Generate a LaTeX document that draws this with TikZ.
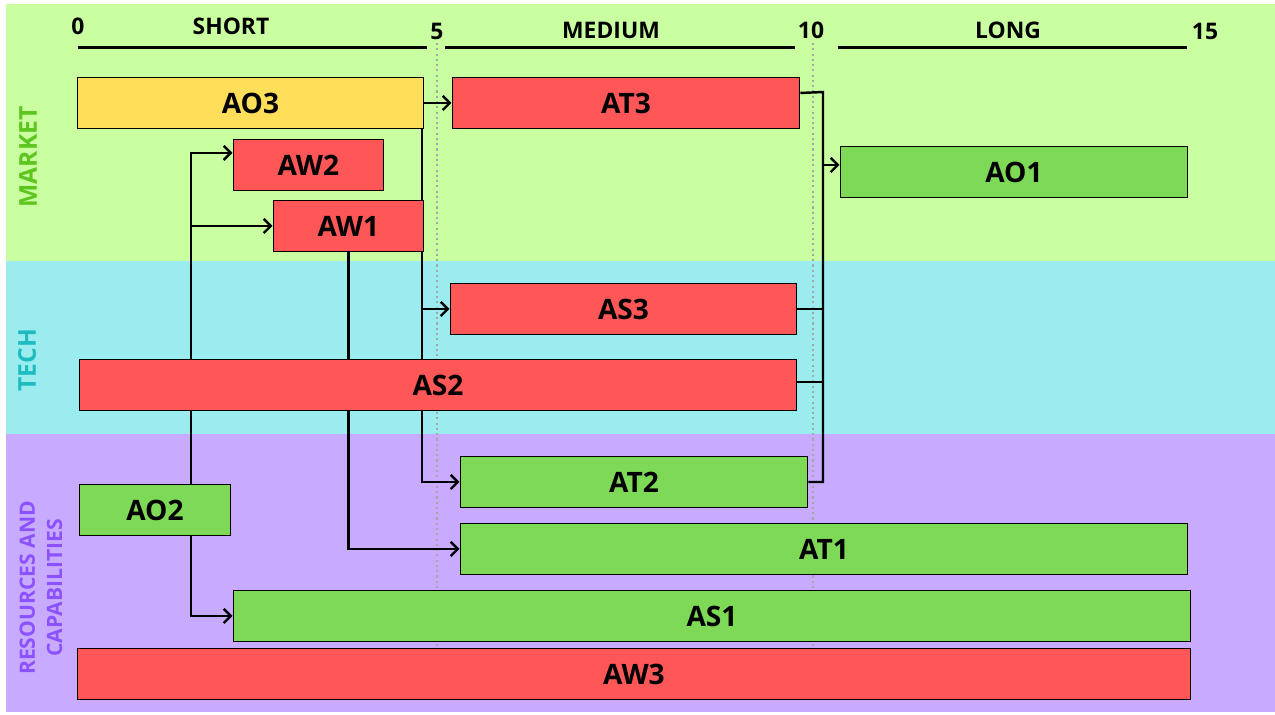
\documentclass[tikz,border=0pt]{standalone}
\usepackage{fontspec}
\setmainfont{Open Sans}
\usepackage{xcolor}
\usepackage{tikz}
\usetikzlibrary{arrows.meta}

\pgfdeclarelayer{lanes}
\pgfdeclarelayer{links}
\pgfsetlayers{lanes,links,main}

\definecolor{laneMarket}{HTML}{C9FFA1}
\definecolor{laneTech}{HTML}{9BECEF}
\definecolor{laneRes}{HTML}{C8ABFF}
\definecolor{barRed}{HTML}{FF5757}
\definecolor{barGreen}{HTML}{7ED957}
\definecolor{barYellow}{HTML}{FFDE59}
\definecolor{txtMarket}{HTML}{5CC51E}
\definecolor{txtTech}{HTML}{1EBCC0}
\definecolor{txtRes}{HTML}{8C52FF}

\begin{document}
\begin{tikzpicture}[
  bar/.style={draw=black, line width=1.1pt, minimum height=1.02cm, inner sep=0pt,
              anchor=north west, font=\fontsize{16}{18}\selectfont\bfseries},
  redbar/.style={bar, fill=barRed},
  greenbar/.style={bar, fill=barGreen},
  yellowbar/.style={bar, fill=barYellow},
  axis/.style={font=\fontsize{13}{15}\selectfont\bfseries, inner sep=1pt},
  lanelab/.style={rotate=90, align=center, font=\fontsize{14}{16}\selectfont\bfseries},
  link/.style={line width=1.4pt},
  arr/.style={link, -{Straight Barb[length=4pt,width=8pt]}},
  grid/.style={gray!70, line width=1.2pt, dash pattern=on 1.2pt off 1.8pt}]

%% ── Scale: 1cm = 50px, y downwards negative ─────────────────────────────────
\useasboundingbox (0,0) rectangle (25.5,-14.28);

%% ── Lanes ───────────────────────────────────────────────────────────────────
\begin{pgfonlayer}{lanes}
\fill[laneMarket] (0.12,-0.08) rectangle (25.5,-5.22);
\fill[laneTech]   (0.12,-5.22) rectangle (25.5,-8.68);
\fill[laneRes]    (0.12,-8.68) rectangle (25.5,-14.24);
\foreach \xg in {8.74,16.26}{
  \draw[grid] (\xg,-0.86) -- (\xg,-12.94);
}
\end{pgfonlayer}

\node[lanelab, txtMarket] (labMarket) at (0.56,-3.14) {MARKET};
\node[lanelab, txtTech]   (labTech)   at (0.54,-7.20) {TECH};
\node[lanelab, txtRes, font=\fontsize{12}{15.5}\selectfont\bfseries]
  (labRes) at (0.82,-11.76) {RESOURCES AND\\CAPABILITIES};

%% ── Time axis ───────────────────────────────────────────────────────────────
\foreach \xa/\xb in {1.56/8.54, 8.90/15.90, 16.76/23.74}{
  \draw[line width=2.2pt] (\xa,-0.95) -- (\xb,-0.95);
}
\node[axis] (t0)     at (1.56,-0.52)  {0};
\node[axis] (short)  at (4.62,-0.52)  {SHORT};
\node[axis] (t5)     at (8.74,-0.62)  {5};
\node[axis] (medium) at (12.22,-0.60) {MEDIUM};
\node[axis] (t10)    at (16.22,-0.60) {10};
\node[axis] (long)   at (20.16,-0.60) {LONG};
\node[axis] (t15)    at (24.10,-0.62) {15};

%% ── Bars ────────────────────────────────────────────────────────────────────
\node[yellowbar, minimum width=6.92cm]  (AO3) at (1.53,-1.53)  {AO3};
\node[redbar,    minimum width=6.94cm]  (AT3) at (9.03,-1.53)  {AT3};
\node[redbar,    minimum width=3.00cm]  (AW2) at (4.65,-2.77)  {AW2};
\node[greenbar,  minimum width=6.94cm]  (AO1) at (16.79,-2.91) {AO1};
\node[redbar,    minimum width=3.00cm]  (AW1) at (5.45,-3.99)  {AW1};
\node[redbar,    minimum width=6.92cm]  (AS3) at (8.99,-5.65)  {AS3};
\node[redbar,    minimum width=14.34cm] (AS2) at (1.57,-7.17)  {AS2};
\node[greenbar,  minimum width=6.94cm]  (AT2) at (9.19,-9.11)  {AT2};
\node[greenbar,  minimum width=3.02cm]  (AO2) at (1.57,-9.67)  {AO2};
\node[greenbar,  minimum width=14.54cm] (AT1) at (9.19,-10.45) {AT1};
\node[greenbar,  minimum width=19.14cm] (AS1) at (4.65,-11.79) {AS1};
\node[redbar,    minimum width=22.26cm] (AW3) at (1.53,-12.95) {AW3};

%% ── Dependencies ────────────────────────────────────────────────────────────
\begin{pgfonlayer}{links}
\draw[arr] (AO3.east) -- (AT3.west);
\draw[arr] ([xshift=-0.05cm]AO3.south east) |- (AS3.west);
\draw[arr] ([xshift=-0.05cm]AO3.south east) |- (AT2.west);
\draw[arr] (AW1.south) |- (AT1.west);

\coordinate (ao2up) at ([xshift=0.72cm]AO2.north);
\draw[arr] (ao2up) |- ([yshift=0.24cm]AW2.west);
\draw[arr] (ao2up) |- (AW1.west);
\draw[arr] ([xshift=0.72cm]AO2.south) |- (AS1.west);

% merge into AO1
\coordinate (bus) at (16.46,-1.84);
\draw[link] ([yshift=0.2cm]AT3.east) -- (bus) |- (AT2.east);
\draw[link] (AS3.east) -- (AS3.east -| bus);
\draw[link] ([yshift=0.06cm]AS2.east) -- ([yshift=0.06cm]AS2.east -| bus);
\draw[arr] ([yshift=0.14cm]AO1.west -| bus) -- ([yshift=0.14cm]AO1.west);
\end{pgfonlayer}

\end{tikzpicture}
\end{document}
